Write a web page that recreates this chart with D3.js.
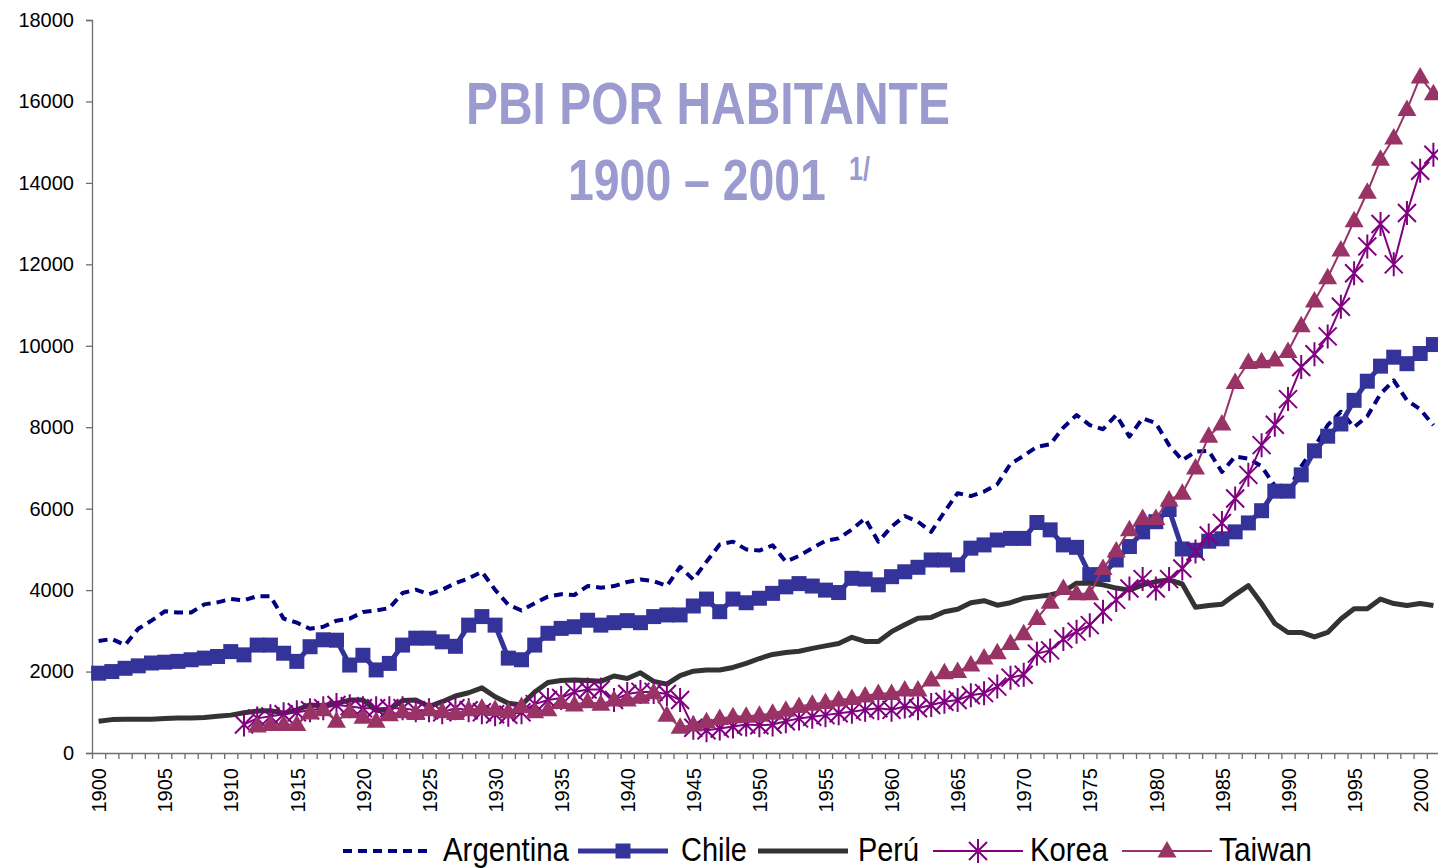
<!DOCTYPE html>
<meta charset="utf-8">
<style>

body {
    margin: 0;
    background: #fff;
}

.line {
    fill: none;
}

.axis path, .axis line {
    stroke: #6e6e6e;
    stroke-width: 1.3px;
}

.axis text {
    font-family: "Liberation Sans", Arial, sans-serif;
    fill: #000;
}

.title {
    font-family: "Liberation Sans Narrow", "Arial Narrow", "Liberation Sans", Arial, sans-serif;
    font-weight: bold;
    fill: #9b9bcf;
}

.legend text {
    font-family: "Liberation Sans Narrow", "Arial Narrow", "Liberation Sans", Arial, sans-serif;
    font-size: 33px;
    fill: #000;
}

</style>
<body>

<!-- load the d3.js library -->
<script src="https://d3js.org/d3.v7.min.js"></script>
<script>

    // years on the category axis
    let firstYear = 1900,
        lastYear = 2001;
    let years = d3.range(firstYear, lastYear + 1);
    let yTicks = [0, 2000, 4000, 6000, 8000, 10000, 12000, 14000, 16000, 18000];

    // PBI por habitante, 1900 - 2001
    let argentina = [
        2750, 2800, 2650, 3050, 3250, 3480, 3450, 3450, 3650, 3700,
        3780, 3750, 3850, 3850, 3300, 3200, 3050, 3100, 3250, 3300,
        3460, 3500, 3560, 3930, 4010, 3900, 4010, 4170, 4290, 4450,
        4010, 3640, 3500, 3680, 3840, 3900, 3880, 4100, 4060, 4100,
        4200, 4260, 4220, 4100, 4570, 4260, 4700, 5120, 5190, 5000,
        4970, 5100, 4700, 4840, 5030, 5210, 5270, 5490, 5760, 5190,
        5560, 5820, 5680, 5430, 5920, 6380, 6310, 6420, 6600, 7100,
        7300, 7520, 7580, 7990, 8300, 8050, 7950, 8300, 7770, 8220,
        8100, 7560, 7190, 7400, 7420, 6900, 7280, 7230, 7040, 6560,
        6450, 7040, 7510, 8050, 8380, 8000, 8270, 8820, 9150, 8660,
        8440, 8050];

    let chile = [
        1960, 2000, 2080, 2140, 2210, 2230, 2250, 2290, 2330, 2370,
        2490, 2410, 2650, 2650, 2450, 2250, 2610, 2780, 2770, 2160,
        2400, 2040, 2200, 2650, 2820, 2820, 2730, 2620, 3140, 3350,
        3140, 2330, 2290, 2650, 2940, 3060, 3100, 3260, 3140, 3200,
        3250, 3200, 3350, 3390, 3390, 3610, 3780, 3470, 3780, 3690,
        3800, 3920, 4080, 4160, 4100, 4000, 3940, 4290, 4270, 4130,
        4330, 4450, 4560, 4740, 4740, 4620, 5030, 5110, 5230, 5270,
        5270, 5660, 5480, 5110, 5050, 4380, 4380, 4740, 5070, 5430,
        5680, 5980, 5010, 4980, 5200, 5260, 5430, 5650, 5950, 6430,
        6430, 6830, 7420, 7780, 8080, 8660, 9130, 9500, 9720, 9560,
        9810, 10030];

    let peru = [
        780, 820, 830, 830, 830, 850, 860, 860, 870, 900,
        930, 990, 1030, 1040, 980, 1060, 1180, 1160, 1220, 1300,
        1300, 1040, 1070, 1290, 1300, 1140, 1260, 1400, 1480, 1600,
        1380, 1220, 1180, 1500, 1730, 1780, 1790, 1780, 1760, 1890,
        1830, 1970, 1760, 1690, 1900, 2010, 2040, 2040, 2100, 2200,
        2320, 2420, 2470, 2500, 2570, 2630, 2690, 2840, 2740, 2740,
        2980, 3150, 3310, 3330, 3470, 3530, 3690, 3740, 3630, 3690,
        3800, 3840, 3880, 3960, 4170, 4170, 4130, 4050, 4000, 4130,
        4210, 4250, 4150, 3580, 3620, 3650, 3890, 4110, 3670, 3180,
        2960, 2960, 2850, 2960, 3290, 3540, 3540, 3780, 3670, 3620,
        3670, 3620];

    // Korea starts in 1911, Taiwan in 1912
    let koreaFrom = 1911;
    let korea = [
        700, 850, 900, 950, 1000, 1050, 1100, 1180, 1150,
        1100, 1100, 1100, 1100, 1050, 1050, 1000, 1100, 1050, 1000,
        950, 940, 1000, 1200, 1300, 1350, 1500, 1560, 1560, 1300,
        1450, 1500, 1500, 1450, 1300, 620, 560, 600, 650, 700,
        680, 700, 780, 850, 890, 930, 975, 1015, 1060, 1100,
        1060, 1140, 1100, 1180, 1260, 1300, 1420, 1470, 1630, 1850,
        1920, 2440, 2520, 2800, 2980, 3140, 3470, 3760, 4040, 4270,
        4040, 4270, 4530, 4950, 5340, 5650, 6250, 6830, 7560, 8060,
        8690, 9480, 9790, 10230, 10960, 11780, 12440, 12990, 12000, 13260,
        14300, 14690];

    let taiwanFrom = 1912;
    let taiwan = [
        660, 700, 700, 700, 980, 1060, 780, 1010,
        880, 780, 940, 1010, 970, 1060, 1010, 970, 1060, 1100,
        1070, 1010, 1140, 1010, 1060, 1240, 1180, 1260, 1200, 1300,
        1300, 1370, 1480, 930, 630, 690, 770, 850, 890, 900,
        925, 975, 1050, 1140, 1200, 1240, 1300, 1340, 1400, 1460,
        1460, 1545, 1545, 1790, 1970, 2000, 2160, 2330, 2460, 2690,
        2930, 3300, 3700, 4040, 3910, 3910, 4530, 4960, 5480, 5760,
        5760, 6210, 6380, 7000, 7780, 8080, 9100, 9590, 9610, 9650,
        9860, 10490, 11100, 11670, 12350, 13070, 13770, 14580, 15100, 15800,
        16600, 16190];

    function toPoints(values, from) {
        return values.map(function (v, i) {
            return {year: from + i, value: v};
        });
    }

    // marker shapes
    let squarePath = "M-7.5,-7.5H7.5V7.5H-7.5Z";
    let starPath = "M-9,-9L9,9M-9,9L9,-9M0,-12L0,12";
    let trianglePath = "M0,-10L9.5,6.5L-9.5,6.5Z";

    let series = [
        {name: "Argentina", data: toPoints(argentina, firstYear), color: "#000080", width: 4, dash: "9,6", marker: null},
        {name: "Chile", data: toPoints(chile, firstYear), color: "#333399", width: 5, dash: null, marker: "square"},
        {name: "Perú", data: toPoints(peru, firstYear), color: "#333333", width: 5, dash: null, marker: null},
        {name: "Korea", data: toPoints(korea, koreaFrom), color: "#800080", width: 2, dash: null, marker: "star"},
        {name: "Taiwan", data: toPoints(taiwan, taiwanFrom), color: "#993366", width: 2, dash: null, marker: "triangle"}
    ];

    let width = 1438,
        height = 868;
    let plot = {left: 92, right: 1440, top: 20, bottom: 753};

    // categories sit between tick marks, one slot per year
    let x = d3.scaleLinear()
        .domain([firstYear - 0.5, lastYear + 0.5])
        .range([plot.left, plot.right]);
    let y = d3.scaleLinear()
        .domain([0, 18000])
        .range([plot.bottom, plot.top]);

    let svg = d3.select("body").append("svg")
        .attr("width", width)
        .attr("height", height);

    svg.append("rect")
        .attr("width", width)
        .attr("height", height)
        .attr("fill", "#fff");

    // Y axis
    svg.append("g")
        .attr("class", "axis")
        .attr("transform", "translate(" + plot.left + ",0)")
        .call(d3.axisLeft(y).tickValues(yTicks).tickSize(6).tickPadding(12).tickFormat(d3.format("d")))
        .selectAll("text")
        .style("font-size", "20px");

    // X axis: a tick between every year
    let boundaries = d3.range(firstYear - 0.5, lastYear + 1, 1);
    svg.append("g")
        .attr("class", "axis")
        .attr("transform", "translate(0," + plot.bottom + ")")
        .call(d3.axisBottom(x).tickValues(boundaries).tickSize(6).tickSizeOuter(0).tickFormat(""));

    // X labels every five years, rotated
    let labelYears = years.filter(function (d) { return d % 5 === 0; });
    let xLabels = svg.append("g")
        .attr("class", "axis")
        .attr("transform", "translate(0," + plot.bottom + ")")
        .call(d3.axisBottom(x).tickValues(labelYears).tickSize(0).tickFormat(d3.format("d")));
    xLabels.select(".domain").remove();
    xLabels.selectAll("text")
        .style("font-size", "20px")
        .attr("text-anchor", "end")
        .attr("transform", "rotate(-90)")
        .attr("x", -15)
        .attr("y", 0)
        .attr("dy", "0.36em");

    let line = d3.line()
        .x(function (d) { return x(d.year); })
        .y(function (d) { return y(d.value); });

    function markerPath(type) {
        if (type === "square") return squarePath;
        if (type === "star") return starPath;
        return trianglePath;
    }

    // draw every series, line then markers
    series.forEach(function (s) {
        svg.append("path")
            .datum(s.data)
            .attr("class", "line")
            .attr("stroke", s.color)
            .attr("stroke-width", s.width)
            .attr("stroke-dasharray", s.dash)
            .attr("stroke-linejoin", "round")
            .attr("d", line);

        if (s.marker) {
            svg.append("g").selectAll("path")
                .data(s.data)
                .enter().append("path")
                .attr("transform", function (d) { return "translate(" + x(d.year) + "," + y(d.value) + ")"; })
                .attr("d", markerPath(s.marker))
                .attr("fill", s.marker === "star" ? "none" : s.color)
                .attr("stroke", s.color)
                .attr("stroke-width", s.marker === "star" ? 2 : 0);
        }
    });

    // squeeze a text horizontally so it fills the wanted width
    function fitText(sel, x0, y0, wanted) {
        let natural = sel.node().getComputedTextLength();
        let k = wanted / natural;
        sel.attr("transform", "translate(" + x0 + "," + y0 + ") scale(" + k + ",1)");
    }

    // title
    let t1 = svg.append("text")
        .attr("class", "title")
        .attr("font-size", 60)
        .text("PBI POR HABITANTE");
    fitText(t1, 466, 124, 484);

    let t2 = svg.append("text")
        .attr("class", "title")
        .attr("font-size", 58)
        .text("1900 – 2001");
    fitText(t2, 568, 200, 258);

    let t3 = svg.append("text")
        .attr("class", "title")
        .attr("font-size", 34)
        .text("1/");
    fitText(t3, 849, 180, 21);

    // legend
    let legendY = 851;
    let legendItems = [
        {x: 343, tx: 443, tw: 126},
        {x: 578, tx: 681, tw: 66},
        {x: 758, tx: 858, tw: 61},
        {x: 933, tx: 1030, tw: 78},
        {x: 1122, tx: 1219, tw: 93}
    ];
    let legend = svg.append("g").attr("class", "legend");
    series.forEach(function (s, i) {
        let it = legendItems[i];
        legend.append("line")
            .attr("x1", it.x)
            .attr("x2", it.x + 90)
            .attr("y1", legendY)
            .attr("y2", legendY)
            .attr("stroke", s.color)
            .attr("stroke-width", s.width)
            .attr("stroke-dasharray", s.dash);
        if (s.marker) {
            legend.append("path")
                .attr("transform", "translate(" + (it.x + 45) + "," + legendY + ")")
                .attr("d", markerPath(s.marker))
                .attr("fill", s.marker === "star" ? "none" : s.color)
                .attr("stroke", s.color)
                .attr("stroke-width", s.marker === "star" ? 2 : 0);
        }
        let lt = legend.append("text").text(s.name);
        fitText(lt, it.tx, legendY + 10, it.tw);
    });

</script>
</body>
